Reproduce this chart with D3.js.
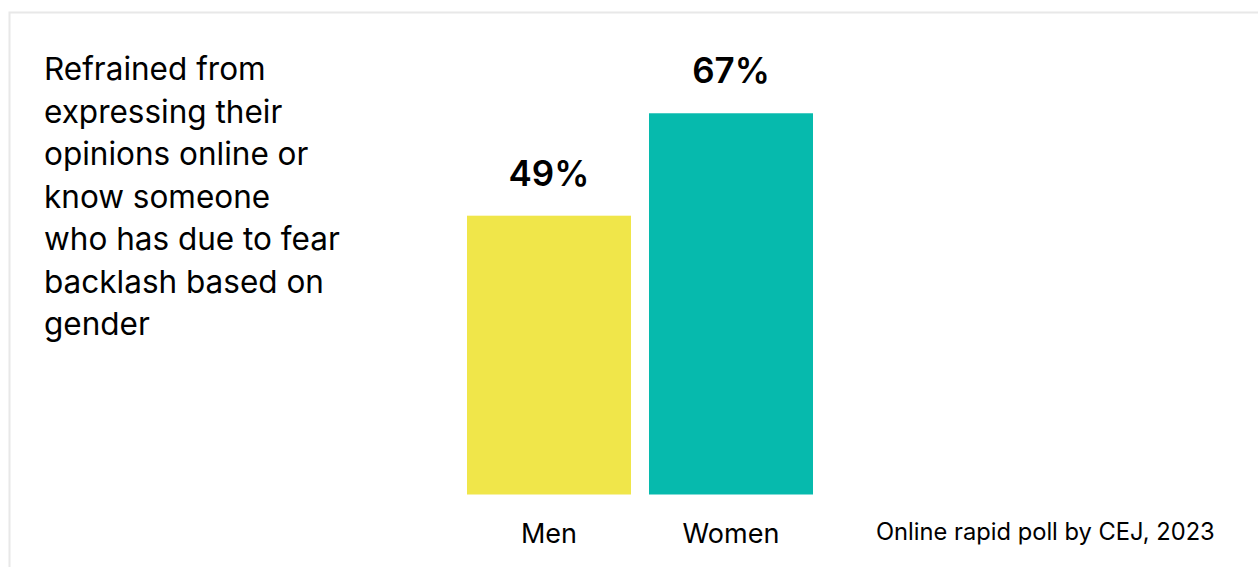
<!DOCTYPE html>
<html>
<head>
<meta charset="utf-8">
<script src="https://cdn.jsdelivr.net/npm/d3@7"></script>
<style>
  body { margin: 0; background: #fff; }
  svg { display: block; font-family: Inter, "Noto Sans", sans-serif; }
</style>
</head>
<body>
<div id="chart"></div>
<script>
// data
var categories = ["Men", "Women"];
var values = [49, 67];
var colors = ["#f0e64a", "#06baad"];
var titleLines = ["Refrained from", "expressing their", "opinions online or", "know someone",
                  "who has due to fear", "backlash based on", "gender"];
var source = "Online rapid poll by CEJ, 2023";

var w = 1258,
    h = 567;

var svg = d3.select("#chart").append("svg")
    .attr("width", w)
    .attr("height", h);

// card frame (open at right and bottom)
svg.append("path")
    .attr("d", "M9.5," + h + "V12.5H" + w)
    .attr("fill", "none")
    .attr("stroke", "#e8e8e8")
    .attr("stroke-width", 2);

// scales
var x = d3.scaleBand()
    .domain(categories)
    .range([467, 813])
    .paddingInner(18 / 182)
    .paddingOuter(0);

var baseline = 494.5;
var y = d3.scaleLinear()
    .domain([0, 100])
    .range([baseline, baseline - 569]);

var color = d3.scaleOrdinal().domain(categories).range(colors);

var data = categories.map(function(c, i) { return { cat: c, val: values[i] }; });

// bars
svg.selectAll(".bar")
    .data(data)
    .enter().append("rect")
    .attr("class", "bar")
    .attr("x", function(d) { return x(d.cat); })
    .attr("width", x.bandwidth())
    .attr("y", function(d) { return y(d.val); })
    .attr("height", function(d) { return baseline - y(d.val); })
    .attr("fill", function(d) { return color(d.cat); });

// value labels
svg.selectAll(".val")
    .data(data)
    .enter().append("text")
    .attr("class", "val")
    .attr("x", function(d) { return x(d.cat) + x.bandwidth() / 2; })
    .attr("y", function(d) { return y(d.val) - 30; })
    .attr("text-anchor", "middle")
    .attr("font-size", 35)
    .attr("font-weight", 600)
    .attr("fill", "#000")
    .text(function(d) { return d.val + "%"; });

// category axis, no line or ticks
var xAxis = svg.append("g")
    .attr("transform", "translate(0," + baseline + ")")
    .call(d3.axisBottom(x).tickSize(0).tickPadding(0));
xAxis.select(".domain").remove();
xAxis.selectAll("text")
    .attr("dy", null)
    .attr("y", 48)
    .attr("font-size", 27)
    .attr("font-family", "Inter, 'Noto Sans', sans-serif")
    .attr("fill", "#000");

// title on left
svg.append("text")
    .attr("x", 44)
    .attr("y", 80)
    .attr("font-size", 31.5)
    .attr("fill", "#000")
    .selectAll("tspan")
    .data(titleLines)
    .enter().append("tspan")
    .attr("x", 44)
    .attr("dy", function(d, i) { return i === 0 ? 0 : 42.5; })
    .text(function(d) { return d; });

// source note
svg.append("text")
    .attr("x", 876)
    .attr("y", 540)
    .attr("font-size", 23.7)
    .attr("fill", "#000")
    .text(source);
</script>
</body>
</html>
